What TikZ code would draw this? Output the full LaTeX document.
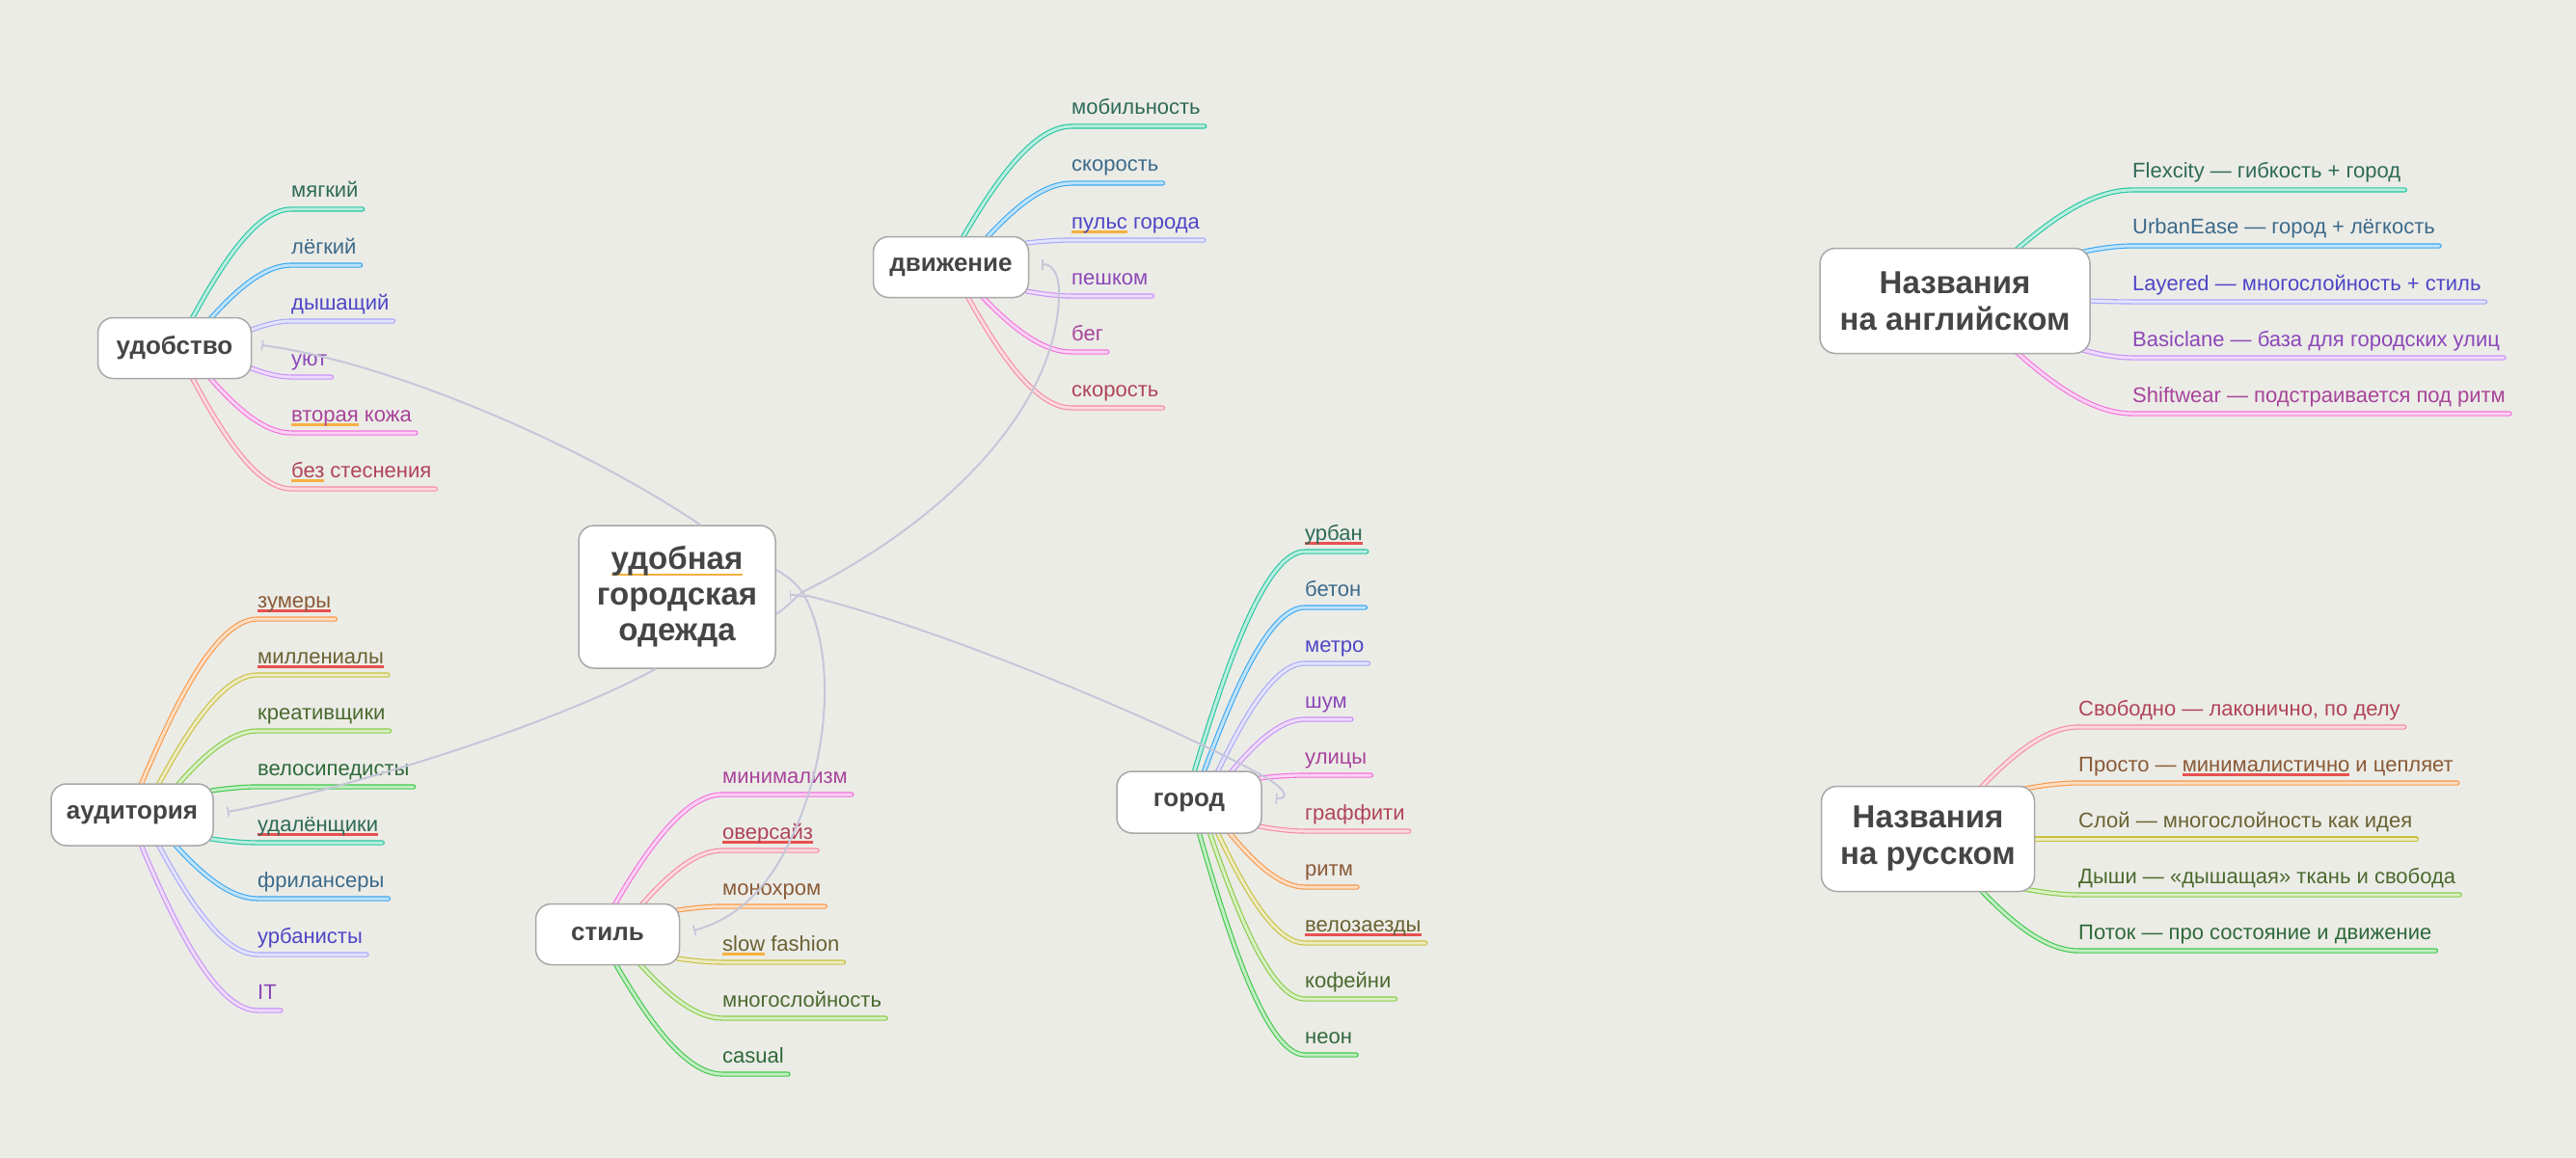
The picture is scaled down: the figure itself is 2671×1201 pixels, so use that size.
\documentclass[tikz,border=0pt]{standalone}
\usepackage{fontspec}
\setmainfont{Liberation Sans}
\usetikzlibrary{calc,arrows.meta}
\pgfdeclarelayer{back}\pgfdeclarelayer{bg}\pgfsetlayers{back,bg,main}
\definecolor{bgc}{HTML}{ECECE7}
\definecolor{cBox}{HTML}{A8A8A8}
\definecolor{cTxt}{HTML}{454545}
\definecolor{cRel}{HTML}{C6C6DA}
\definecolor{cTeal}{HTML}{26C6A0}
\definecolor{cBlue}{HTML}{3AA8F0}
\definecolor{cLav}{HTML}{A8A8F8}
\definecolor{cVio}{HTML}{C890F5}
\definecolor{cPink}{HTML}{F272DC}
\definecolor{cRose}{HTML}{F48CA0}
\definecolor{cOrange}{HTML}{F89848}
\definecolor{cOlive}{HTML}{C8C040}
\definecolor{cGreen}{HTML}{88CC48}
\definecolor{cBGreen}{HTML}{40C848}
\definecolor{tTeal}{HTML}{2E6A58}
\definecolor{tBlue}{HTML}{3C6A8A}
\definecolor{tLav}{HTML}{4E46C6}
\definecolor{tVio}{HTML}{8C48B8}
\definecolor{tPink}{HTML}{A8449A}
\definecolor{tRose}{HTML}{B04458}
\definecolor{tOrange}{HTML}{8A5A36}
\definecolor{tOlive}{HTML}{6A6232}
\definecolor{tGreen}{HTML}{4A6A2E}
\definecolor{tBGreen}{HTML}{2E6A3A}
\definecolor{uo}{HTML}{F5B040}
\definecolor{ur}{HTML}{E85050}
\newcommand\wul[2]{\setbox0\hbox{#2}\rlap{\color{#1}\rule[-4.5pt]{\wd0}{2.2pt}}\box0\relax}
\newcommand\wulb[2]{\setbox0\hbox{#2}\rlap{\color{#1}\rule[-6.5pt]{\wd0}{2.6pt}}\box0\relax}
\newcommand\lfont{\fontsize{22}{26}\selectfont}
\newcommand\bfont{\fontsize{26}{30}\selectfont\bfseries}
\newcommand\cfont{\fontsize{33}{37}\selectfont\bfseries}
\newcommand\hfont{\fontsize{33}{38}\selectfont\bfseries}
\tikzset{
  mbox/.style={draw=cBox, fill=white, rounded corners=16pt, line width=1.5pt, text=cTxt, align=center, inner sep=0pt},
  lf/.style={text=#1, inner sep=0pt, anchor=base west, font=\lfont},
  brs/.style={draw=#1, double=#1!32!white, line width=1.1pt, double distance=3pt, line cap=round},
  rel/.style={draw=cRel, line width=2pt},
  bartip/.tip={Bar[width=11pt,line width=1.6pt]}
}
\newcommand\leaf[5]{\node[lf=#2] (#1) at (#3,#4) {#5};}
\newcommand\br[3]{\draw[brs=#1] let \p1=(#2), \p2=($(#3.base west)+(0,12)$), \p3=($(#3.base east)+(4,12)$) in (\p1) .. controls ({\x1+0.3*(\x2-\x1)},{\y1+0.5*(\y2-\y1)}) and ({\x2-0.35*(\x2-\x1)},\y2) .. (\p2) -- (\p3);}
\begin{document}
\begin{tikzpicture}[x=1pt,y=-1pt]
\begin{pgfonlayer}{back}
\fill[bgc] (0,0) rectangle (2671,1201);
\end{pgfonlayer}
\useasboundingbox (0,0) rectangle (2671,1201);
% main boxes
\node[mbox, minimum width=204pt, minimum height=148pt, font=\cfont] (ce) at (702,619) {\wulb{uo}{удобная}\\городская\\одежда};
\node[mbox, minimum width=159pt, minimum height=63pt, font=\bfont] (ud) at (181,361) {удобство};
\node[mbox, minimum width=161pt, minimum height=63pt, font=\bfont] (dv) at (986,277) {движение};
\node[mbox, minimum width=168pt, minimum height=64pt, font=\bfont] (au) at (137,845) {аудитория};
\node[mbox, minimum width=149pt, minimum height=63pt, font=\bfont] (st) at (630,969) {стиль};
\node[mbox, minimum width=150pt, minimum height=64pt, font=\bfont] (gr) at (1233,832) {город};
\node[mbox, minimum width=280pt, minimum height=109pt, font=\hfont] (en) at (2027,312) {Названия\\на английском};
\node[mbox, minimum width=221pt, minimum height=109pt, font=\hfont] (ru) at (1999,870) {Названия\\на русском};
% leaves
\leaf{u1}{tTeal}{302}{205}{мягкий}
\leaf{u2}{tBlue}{302}{263}{лёгкий}
\leaf{u3}{tLav}{302}{321}{дышащий}
\leaf{u4}{tVio}{302}{379}{уют}
\leaf{u5}{tPink}{302}{437}{\wul{uo}{вторая} кожа}
\leaf{u6}{tRose}{302}{495}{\wul{uo}{без} стеснения}
\leaf{d1}{tTeal}{1111}{119}{мобильность}
\leaf{d2}{tBlue}{1111}{178}{скорость}
\leaf{d3}{tLav}{1111}{237}{\wul{uo}{пульс} города}
\leaf{d4}{tVio}{1111}{295}{пешком}
\leaf{d5}{tPink}{1111}{353}{бег}
\leaf{d6}{tRose}{1111}{411}{скорость}
\leaf{a1}{tOrange}{267}{630}{\wul{ur}{зумеры}}
\leaf{a2}{tOlive}{267}{688}{\wul{ur}{миллениалы}}
\leaf{a3}{tGreen}{267}{746}{креативщики}
\leaf{a4}{tBGreen}{267}{804}{велосипедисты}
\leaf{a5}{tTeal}{267}{862}{\wul{ur}{удалёнщики}}
\leaf{a6}{tBlue}{267}{920}{фрилансеры}
\leaf{a7}{tLav}{267}{978}{урбанисты}
\leaf{a8}{tVio}{267}{1036}{IT}
\leaf{s1}{tPink}{749}{812}{минимализм}
\leaf{s2}{tRose}{749}{870}{\wul{ur}{оверсайз}}
\leaf{s3}{tOrange}{749}{928}{монохром}
\leaf{s4}{tOlive}{749}{986}{\wul{uo}{slow} fashion}
\leaf{s5}{tGreen}{749}{1044}{многослойность}
\leaf{s6}{tBGreen}{749}{1102}{casual}
\leaf{g1}{tTeal}{1353}{560}{\wul{ur}{урбан}}
\leaf{g2}{tBlue}{1353}{618}{бетон}
\leaf{g3}{tLav}{1353}{676}{метро}
\leaf{g4}{tVio}{1353}{734}{шум}
\leaf{g5}{tPink}{1353}{792}{улицы}
\leaf{g6}{tRose}{1353}{850}{граффити}
\leaf{g7}{tOrange}{1353}{908}{ритм}
\leaf{g8}{tOlive}{1353}{966}{\wul{ur}{велозаезды}}
\leaf{g9}{tGreen}{1353}{1024}{кофейни}
\leaf{g10}{tBGreen}{1353}{1082}{неон}
\leaf{e1}{tTeal}{2211}{185}{Flexcity — гибкость + город}
\leaf{e2}{tBlue}{2211}{243}{UrbanEase — город + лёгкость}
\leaf{e3}{tLav}{2211}{301}{Layered — многослойность + стиль}
\leaf{e4}{tVio}{2211}{359}{Basiclane — база для городских улиц}
\leaf{e5}{tPink}{2211}{417}{Shiftwear — подстраивается под ритм}
\leaf{r1}{tRose}{2155}{742}{Свободно — лаконично, по делу}
\leaf{r2}{tOrange}{2155}{800}{Просто — \wul{ur}{минималистично} и цепляет}
\leaf{r3}{tOlive}{2155}{858}{Слой — многослойность как идея}
\leaf{r4}{tGreen}{2155}{916}{Дыши — «дышащая» ткань и свобода}
\leaf{r5}{tBGreen}{2155}{974}{Поток — про состояние и движение}
% branches
\begin{pgfonlayer}{bg}
\br{cTeal}{$(ud.north)+(18,2)$}{u1}
\br{cBlue}{$(ud.north)+(37,2)$}{u2}
\br{cLav}{$(ud.east)+(-3,-18)$}{u3}
\br{cVio}{$(ud.east)+(-3,20)$}{u4}
\br{cPink}{$(ud.south)+(36,-2)$}{u5}
\br{cRose}{$(ud.south)+(18,-2)$}{u6}
\br{cTeal}{$(dv.north)+(12,2)$}{d1}
\br{cBlue}{$(dv.north)+(37,2)$}{d2}
\br{cLav}{$(dv.east)+(-3,-25)$}{d3}
\br{cVio}{$(dv.east)+(-3,25)$}{d4}
\br{cPink}{$(dv.south)+(32,-2)$}{d5}
\br{cRose}{$(dv.south)+(17,-2)$}{d6}
\br{cOrange}{$(au.north)+(9,2)$}{a1}
\br{cOlive}{$(au.north)+(27,2)$}{a2}
\br{cGreen}{$(au.north)+(47,2)$}{a3}
\br{cBGreen}{$(au.east)+(-3,-25)$}{a4}
\br{cTeal}{$(au.east)+(-3,25)$}{a5}
\br{cBlue}{$(au.south)+(44,-2)$}{a6}
\br{cLav}{$(au.south)+(27,-2)$}{a7}
\br{cVio}{$(au.south)+(9,-2)$}{a8}
\br{cPink}{$(st.north)+(7,2)$}{s1}
\br{cRose}{$(st.north)+(35,2)$}{s2}
\br{cOrange}{$(st.east)+(-3,-25)$}{s3}
\br{cOlive}{$(st.east)+(-3,25)$}{s4}
\br{cGreen}{$(st.south)+(33,-2)$}{s5}
\br{cBGreen}{$(st.south)+(8,-2)$}{s6}
\br{cTeal}{$(gr.north)+(5,2)$}{g1}
\br{cBlue}{$(gr.north)+(15,2)$}{g2}
\br{cLav}{$(gr.north)+(29,2)$}{g3}
\br{cVio}{$(gr.north)+(43,2)$}{g4}
\br{cPink}{$(gr.east)+(-3,-25)$}{g5}
\br{cRose}{$(gr.east)+(-3,25)$}{g6}
\br{cOrange}{$(gr.south)+(41,-2)$}{g7}
\br{cOlive}{$(gr.south)+(29,-2)$}{g8}
\br{cGreen}{$(gr.south)+(21,-2)$}{g9}
\br{cBGreen}{$(gr.south)+(10,-2)$}{g10}
\br{cTeal}{$(en.north)+(64,2)$}{e1}
\br{cBlue}{$(en.east)+(-12,-50)$}{e2}
\br{cLav}{$(en.east)+(-2,0)$}{e3}
\br{cVio}{$(en.east)+(-12,50)$}{e4}
\br{cPink}{$(en.south)+(64,-2)$}{e5}
\br{cRose}{$(ru.north)+(55,2)$}{r1}
\br{cOrange}{$(ru.east)+(-11,-52)$}{r2}
\br{cOlive}{$(ru.east)+(-2,0)$}{r3}
\br{cGreen}{$(ru.east)+(-11,52)$}{r4}
\br{cBGreen}{$(ru.south)+(55,-2)$}{r5}
\end{pgfonlayer}
% relationship lines
\coordinate (j) at (832,614);
\coordinate (jc) at (838,618);
\coordinate (dvh) at (1098,300);
\coordinate (stm) at (810,890);
\coordinate (grh) at (1310,805);
\draw[rel,-bartip] ($(ce.north)+(24,0)$) .. controls +(-126,-85) and +(130,17) .. ($(ud.east)+(10,-3)$);
\draw[rel,-bartip] ($(ce.south)+(-22,0)$) .. controls +(-120,65) and +(95,-17) .. ($(au.east)+(14,-3)$);
\draw[rel,-bartip] ($(ce.east)+(0,18)$) .. controls +(12,-8) and +(-10,8) .. (j) .. controls +(148,-73) and +(2,120) .. (dvh) .. controls +(-1,-18) and +(10,0) .. ($(dv.east)+(13,-3)$);
\draw[rel,-bartip] ($(ce.east)+(0,-28)$) .. controls +(14,8) and +(-8,-10) .. (j) .. controls +(38,66) and +(50,-90) .. (stm) .. controls +(-20,35) and +(42,-11) .. ($(st.east)+(14,-4)$);
\draw[rel,bartip-bartip] ($(ce.east)+(14,-2)$) .. controls +(10,0) and +(-6,2) .. (jc) .. controls +(160,40) and +(-70,-40) .. (grh) .. controls +(25,14) and +(14,1) .. ($(gr.east)+(14,-4)$);
\end{tikzpicture}
\end{document}
